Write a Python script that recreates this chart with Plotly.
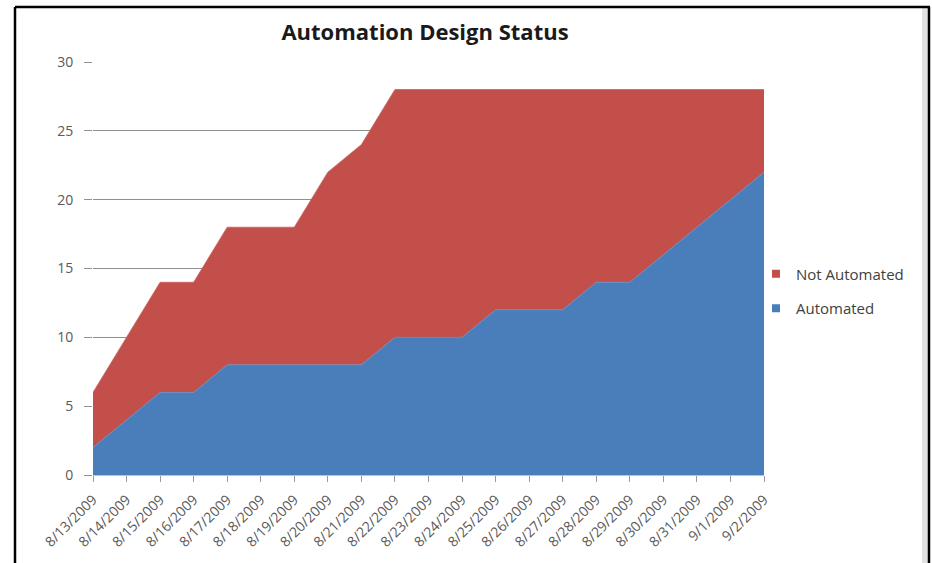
import plotly.graph_objects as go

dates = ["8/13/2009", "8/14/2009", "8/15/2009", "8/16/2009", "8/17/2009", "8/18/2009",
         "8/19/2009", "8/20/2009", "8/21/2009", "8/22/2009", "8/23/2009", "8/24/2009",
         "8/25/2009", "8/26/2009", "8/27/2009", "8/28/2009", "8/29/2009", "8/30/2009",
         "8/31/2009", "9/1/2009", "9/2/2009"]
automated = [2, 4, 6, 6, 8, 8, 8, 8, 8, 10, 10, 10, 12, 12, 12, 14, 14, 16, 18, 20, 22]
not_automated = [4, 6, 8, 8, 10, 10, 10, 14, 16, 18, 18, 18, 16, 16, 16, 14, 14, 12, 10, 8, 6]
y_ticks = [0, 5, 10, 15, 20, 25, 30]

BLUE = "#4A7EBB"
RED = "#C24F4A"

fig = go.Figure()
fig.add_trace(go.Scatter(
    x=dates, y=automated, name="Automated", stackgroup="s", mode="lines",
    line=dict(color="#5f8fca", width=0.8), fillcolor=BLUE, showlegend=False))
fig.add_trace(go.Scatter(
    x=dates, y=not_automated, name="Not Automated", stackgroup="s", mode="lines",
    line=dict(color="#c96560", width=0.8), fillcolor=RED, showlegend=False))
# legend entries (small square swatches like the original)
fig.add_trace(go.Scatter(x=[None], y=[None], mode="markers", name="Not Automated",
                         marker=dict(symbol="square", size=8, color=RED),
                         legendrank=1, legendgroup="b"))
fig.add_trace(go.Scatter(x=[None], y=[None], mode="markers", name="Automated",
                         marker=dict(symbol="square", size=8, color=BLUE),
                         legendrank=2, legendgroup="a"))

L, R, T, B = 93, 764, 62, 475
W, H = R - L, B - T
def px(x): return (x - L) / W
def py(y): return (B - y) / H

shapes = [
    dict(type="rect", xref="paper", yref="paper", x0=px(922), x1=px(928), y0=py(570), y1=py(8),
         fillcolor="#e2e2e2", line=dict(width=0), layer="below"),
    dict(type="line", xref="paper", yref="paper", x0=px(15), x1=px(15), y0=py(570), y1=py(7),
         line=dict(color="black", width=2.5)),
    dict(type="line", xref="paper", yref="paper", x0=px(15), x1=px(930), y0=py(7), y1=py(7),
         line=dict(color="black", width=2.5)),
    dict(type="line", xref="paper", yref="paper", x0=px(929), x1=px(929), y0=py(570), y1=py(7),
         line=dict(color="black", width=2.5)),
]

fig.update_layout(
    width=932, height=563,
    margin=dict(l=L, r=932 - R, t=T, b=563 - B),
    paper_bgcolor="white", plot_bgcolor="white",
    font=dict(family="Open Sans, Noto Sans, sans-serif", color="#595959", size=13),
    title=dict(text="<b>Automation Design Status</b>", x=425 / 932, xanchor="center",
               y=1 - 32 / 563, yanchor="middle",
               font=dict(size=22, color="#1a1a1a", family="Open Sans, sans-serif")),
    xaxis=dict(type="category", categoryorder="array", categoryarray=dates,
               range=[0, len(dates) - 1], tickangle=-45, ticks="outside", ticklen=6,
               tickcolor="#9a9a9a", showline=True, linecolor="#b8c4d4", showgrid=False,
               ticklabelstandoff=4,
               tickfont=dict(size=14, color="#595959")),
    yaxis=dict(range=[0, 30], tickvals=y_ticks, showgrid=True, gridcolor="#8f8f8f",
               gridwidth=1, ticks="outside", ticklen=8, tickcolor="#8f8f8f",
               ticklabelstandoff=8,
               zeroline=False, showline=False, tickfont=dict(size=14, color="#595959")),
    legend=dict(x=px(756), xanchor="left", y=py(291), yanchor="middle",
                traceorder="grouped", tracegroupgap=12, bgcolor="rgba(0,0,0,0)",
                font=dict(size=15, color="#404040"), itemwidth=30),
    shapes=shapes, showlegend=True,
)

fig.write_html("out.html")
